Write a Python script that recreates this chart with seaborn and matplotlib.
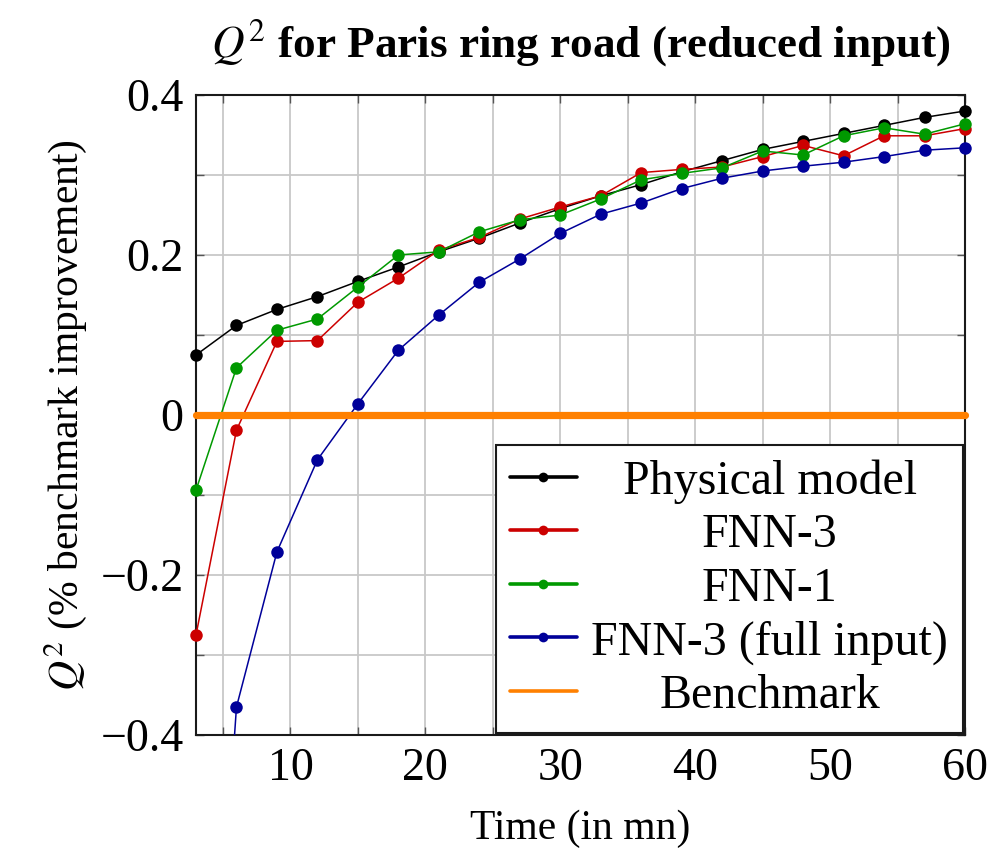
import matplotlib
matplotlib.use("Agg")
import matplotlib.pyplot as plt
import seaborn as sns
import pandas as pd
from matplotlib.ticker import MultipleLocator, FuncFormatter
from matplotlib.transforms import Bbox, TransformedBbox

# ---------------- data ----------------
time_mn = [3, 6, 9, 12, 15, 18, 21, 24, 27, 30, 33, 36, 39, 42, 45, 48, 51, 54, 57, 60]
physical_model = [0.075, 0.112, 0.132, 0.148, 0.167, 0.185, 0.204, 0.221, 0.240, 0.258,
                  0.274, 0.288, 0.304, 0.318, 0.332, 0.342, 0.352, 0.362, 0.372, 0.380]
fnn3 = [-0.275, -0.019, 0.092, 0.093, 0.141, 0.171, 0.206, 0.222, 0.245, 0.260,
        0.274, 0.303, 0.307, 0.310, 0.323, 0.337, 0.324, 0.349, 0.349, 0.358]
fnn1 = [-0.094, 0.059, 0.106, 0.120, 0.160, 0.200, 0.204, 0.229, 0.244, 0.250,
        0.270, 0.294, 0.302, 0.309, 0.330, 0.325, 0.349, 0.359, 0.351, 0.364]
fnn3_full = [-1.10, -0.365, -0.171, -0.056, 0.014, 0.081, 0.125, 0.166, 0.195, 0.227,
             0.251, 0.265, 0.283, 0.296, 0.305, 0.311, 0.316, 0.323, 0.331, 0.334]
benchmark = [0.0, 0.0, 0.0, 0.0, 0.0, 0.0, 0.0, 0.0, 0.0, 0.0,
             0.0, 0.0, 0.0, 0.0, 0.0, 0.0, 0.0, 0.0, 0.0, 0.0]

series_names = ["Physical model", "FNN-3", "FNN-1", "FNN-3 (full input)", "Benchmark"]
series_values = [physical_model, fnn3, fnn1, fnn3_full, benchmark]
series_colors = ["#000000", "#cc0000", "#009900", "#000099", "#ff8000"]
y_ticks = [-0.4, -0.2, 0.0, 0.2, 0.4]
x_ticks = [10, 20, 30, 40, 50, 60]

rows = []
for name, vals in zip(series_names, series_values):
    for t, v in zip(time_mn, vals):
        rows.append({"time": t, "q2": v, "model": name})
df = pd.DataFrame(rows)

# ---------------- style ----------------
sns.set_style("ticks")
plt.rcParams["font.family"] = ["Liberation Serif", "DejaVu Serif"]
plt.rcParams["mathtext.fontset"] = "stix"
for k in ["text.color", "axes.labelcolor", "xtick.color", "ytick.color"]:
    plt.rcParams[k] = "black"

fig = plt.figure(figsize=(9.93, 8.56), dpi=100)
ax = fig.add_axes([196 / 993, 1 - 735 / 856, (965 - 196) / 993, (735 - 95) / 856])

for name, color in zip(series_names, series_colors):
    sub = df[df["model"] == name]
    if name == "Benchmark":
        sns.lineplot(data=sub, x="time", y="q2", color=color, linewidth=5.2,
                     label=name, ax=ax, zorder=4)
    else:
        sns.lineplot(data=sub, x="time", y="q2", color=color, linewidth=1.1,
                     marker="o", markersize=9, markeredgewidth=0,
                     label=name, ax=ax, zorder=3)

ax.set_xlim(3, 60)
ax.set_ylim(-0.4, 0.4)

ax.xaxis.set_major_locator(plt.FixedLocator(x_ticks))
ax.xaxis.set_minor_locator(MultipleLocator(5))
ax.yaxis.set_major_locator(plt.FixedLocator(y_ticks))
ax.yaxis.set_minor_locator(MultipleLocator(0.1))

def yfmt(v, pos):
    if abs(v) < 1e-9:
        return "0"
    s = f"{v:.1f}"
    return s.replace("-", "\u2212")

ax.yaxis.set_major_formatter(FuncFormatter(yfmt))

ax.grid(True, which="both", color="#c8c8c8", linewidth=1.3, zorder=0)
ax.set_axisbelow(True)
ax.tick_params(which="both", direction="in", top=True, right=True,
               length=6, width=1.0, color="#555555", labelcolor="black",
               labelsize=33, pad=9)

for sp in ax.spines.values():
    sp.set_linewidth(1.5)
    sp.set_color("#1a1a1a")

ax.set_xlabel("Time (in mn)", fontsize=30, labelpad=14, color="black")
ax.set_ylabel(r"$Q^2$ (% benchmark improvement)", fontsize=30, labelpad=8,
              color="black")
ax.set_title(r"$Q^2$ for Paris ring road (reduced input)", fontsize=32.5,
             fontweight="bold", pad=27, color="black")

# allow edge markers to show horizontally but clip vertically
clipbox = TransformedBbox(Bbox([[-0.02, 0.0], [1.02, 1.0]]), ax.transAxes)
for ln in ax.get_lines():
    ln.set_clip_box(clipbox)

handles, labels = ax.get_legend_handles_labels()
leg = ax.legend(handles, labels, loc="lower right", fontsize=34.5,
                frameon=True, fancybox=False, framealpha=1,
                edgecolor="#1a1a1a", borderaxespad=0.05,
                handlelength=1.4, handletextpad=0.3, labelspacing=0.2,
                borderpad=0.3)
leg.get_frame().set_linewidth(1.5)
for t in leg.get_texts():
    t.set_color("black")
for hl in leg.get_lines():
    hl.set_linewidth(2.6)
    if hl.get_marker() not in (None, "None", ""):
        hl.set_markersize(7)

fig.canvas.draw()
renderer = fig.canvas.get_renderer()
texts = leg.get_texts()
widths = [t.get_window_extent(renderer).width for t in texts]
mw = max(widths)
for t, w in zip(texts, widths):
    x0, y0 = t.get_position()
    t.set_position((x0 + (mw - w) / 2, y0))

fig.savefig("out.png", dpi=100)
